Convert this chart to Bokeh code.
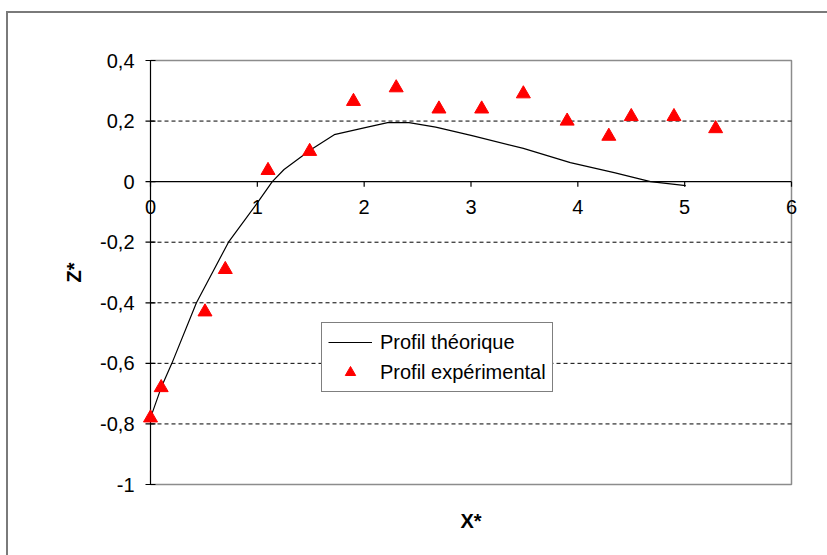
import math
from bokeh.plotting import figure
from bokeh.models import Range1d, Legend, LegendItem
from bokeh.core.properties import value
from bokeh.embed import file_html
from bokeh.resources import INLINE

# Theoretical profile (continuous curve)
theo_x = [0.0, 0.1, 0.2, 0.43, 0.73, 1.0, 1.14, 1.25, 1.5, 1.72, 2.03, 2.22, 2.42,
          2.67, 3.01, 3.49, 3.93, 4.34, 4.68, 5.01]
theo_z = [-0.78, -0.68, -0.60, -0.40, -0.20, -0.07, 0.0, 0.04, 0.105, 0.155, 0.18,
          0.195, 0.195, 0.18, 0.152, 0.11, 0.063, 0.03, 0.0, -0.013]

# Experimental profile (measured points)
exp_x = [0.0, 0.1, 0.51, 0.70, 1.10, 1.49, 1.90, 2.30, 2.70, 3.10, 3.49, 3.90,
         4.29, 4.50, 4.90, 5.29]
exp_z = [-0.78, -0.68, -0.43, -0.29, 0.037, 0.10, 0.265, 0.31, 0.24, 0.24, 0.29,
         0.20, 0.15, 0.215, 0.215, 0.175]

x_ticks = [0, 1, 2, 3, 4, 5, 6]
x_tick_labels = ["0", "1", "2", "3", "4", "5", "6"]
z_ticks = [-1.0, -0.8, -0.6, -0.4, -0.2, 0.0, 0.2, 0.4]
z_tick_labels = ["-1", "-0,8", "-0,6", "-0,4", "-0,2", "0", "0,2", "0,4"]
z_grid = [-0.8, -0.6, -0.4, -0.2, 0.2]

X_MIN, X_MAX = 0, 6
Z_MIN, Z_MAX = -1, 0.4

FONT = "Liberation Sans"
FS = "20px"

# canvas and plot-area geometry (pixels)
fig_w, fig_h = 821, 544
area_left, area_top = 142, 47
area_w, area_h = 641, 424

# The frame spans the whole canvas so that markers and labels on the
# plot-area edges are not clipped; the axes are drawn as glyphs.
sx = area_w / (X_MAX - X_MIN)
sz = area_h / (Z_MAX - Z_MIN)
x_range = Range1d(X_MIN - area_left / sx,
                  X_MAX + (fig_w - area_left - area_w) / sx)
z_range = Range1d(Z_MIN - (fig_h - area_top - area_h) / sz,
                  Z_MAX + area_top / sz)

p = figure(
    width=fig_w, height=fig_h, x_range=x_range, y_range=z_range,
    x_axis_location=None, y_axis_location=None,
    output_backend="svg", toolbar_location=None,
    min_border=0, background_fill_color="white", border_fill_color="white",
)
p.outline_line_color = None
p.grid.visible = False
p.margin = (11, 0, 0, 6)
p.styles = {"border-left": "2px solid #7a7a7a", "border-top": "2px solid #7a7a7a"}

# plot-area border (top, right, bottom)
p.multi_line(xs=[[X_MIN, X_MAX, X_MAX, X_MIN]], ys=[[Z_MAX, Z_MAX, Z_MIN, Z_MIN]],
             line_color="#8c8c8c", line_width=1.5)

# dashed horizontal grid
n = len(z_grid)
p.segment(x0=[X_MIN] * n, y0=z_grid, x1=[X_MAX] * n, y1=z_grid,
          line_color="black", line_dash="4 3", line_width=1)

# vertical axis at X* = 0
tick = 5
p.segment(x0=[X_MIN], y0=[Z_MIN], x1=[X_MIN], y1=[Z_MAX], line_color="black", line_width=1.2)
m = len(z_ticks)
p.segment(x0=[X_MIN - tick / sx] * m, y0=z_ticks, x1=[X_MIN + tick / sx] * m, y1=z_ticks,
          line_color="black", line_width=1.2)
p.text(x=[X_MIN] * m, y=z_ticks, text=z_tick_labels, x_offset=-16,
       text_font=value(FONT), text_font_size=FS, text_color="black",
       text_align="right", text_baseline="middle")

# horizontal axis crossing at Z* = 0
k = len(x_ticks)
p.segment(x0=[X_MIN], y0=[0], x1=[X_MAX], y1=[0], line_color="black", line_width=1.2)
p.segment(x0=x_ticks, y0=[0] * k, x1=x_ticks, y1=[-tick / sz] * k,
          line_color="black", line_width=1.2)
p.text(x=x_ticks, y=[0] * k, text=x_tick_labels, y_offset=18,
       text_font=value(FONT), text_font_size=FS, text_color="black",
       text_align="center", text_baseline="top")

# axis titles
p.text(x=[X_MIN], y=[(Z_MIN + Z_MAX) / 2], text=["Z*"], x_offset=-77, angle=math.pi / 2,
       text_font=value(FONT), text_font_size=FS, text_font_style="bold",
       text_color="black", text_align="center", text_baseline="middle")
p.text(x=[(X_MIN + X_MAX) / 2], y=[Z_MIN], text=["X*"], y_offset=36,
       text_font=value(FONT), text_font_size=FS, text_font_style="bold",
       text_color="black", text_align="center", text_baseline="middle")

theo = p.line(theo_x, theo_z, line_color="black", line_width=1.2)
expe = p.scatter(exp_x, exp_z, marker="triangle", size=14,
                 fill_color="red", line_color="red")

legend = Legend(
    items=[LegendItem(label="Profil théorique", renderers=[theo]),
           LegendItem(label="Profil expérimental", renderers=[expe])],
    location=(area_left + 171, (fig_h - area_top - area_h) + 92),
    label_text_font=FONT, label_text_font_size=FS, label_text_color="black",
    border_line_color="black", border_line_width=1.2,
    background_fill_color="white", background_fill_alpha=1,
    glyph_width=44, glyph_height=26, label_height=26,
    spacing=4, padding=6, margin=0, label_standoff=8,
)
p.add_layout(legend, "center")

open("out.html", "w").write(file_html(p, INLINE))
